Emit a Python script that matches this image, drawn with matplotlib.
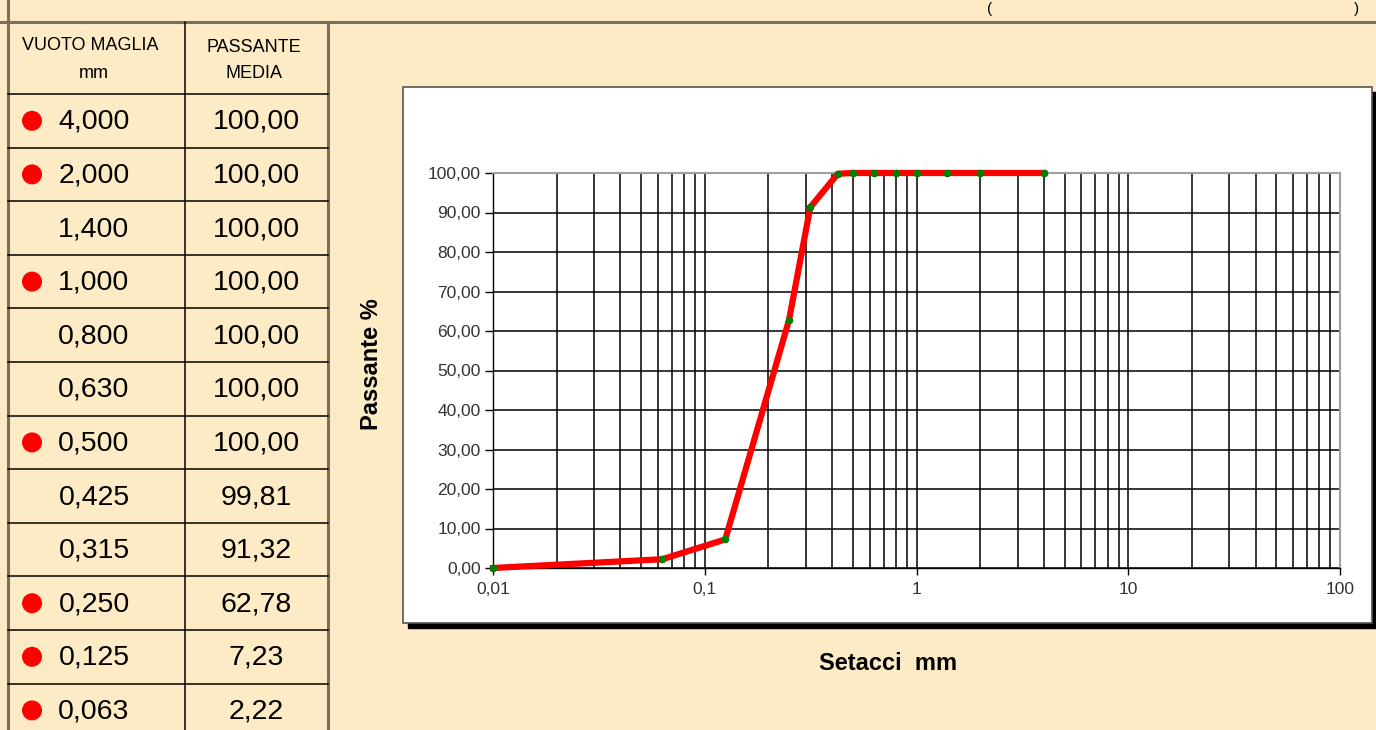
import matplotlib
matplotlib.use("Agg")
import matplotlib.pyplot as plt
from matplotlib.patches import Rectangle, Circle
from matplotlib.ticker import FixedLocator, LogLocator, NullFormatter, FuncFormatter

# ---- data ----
sieve_mm = [4.000, 2.000, 1.400, 1.000, 0.800, 0.630, 0.500, 0.425, 0.315, 0.250, 0.125, 0.063]
passing = [100.00, 100.00, 100.00, 100.00, 100.00, 100.00, 100.00, 99.81, 91.32, 62.78, 7.23, 2.22]
red_dot = [True, True, False, True, False, False, True, False, False, True, True, True]
pan_x = [0.01]
pan_y = [0.0]
y_ticks = [0, 10, 20, 30, 40, 50, 60, 70, 80, 90, 100]
x_ticks = [0.01, 0.1, 1, 10, 100]
x_tick_labels = ["0,01", "0,1", "1", "10", "100"]

BG = "#FDEBC5"
W, H = 1376, 730
fig = plt.figure(figsize=(W / 100, H / 100), dpi=100, facecolor=BG)
plt.rcParams['font.family'] = ['Liberation Sans', 'DejaVu Sans']
NARROW = ['Liberation Sans Narrow', 'Liberation Sans', 'DejaVu Sans']

# background/pixel axes
bg = fig.add_axes([0, 0, 1, 1])
bg.set_xlim(0, W)
bg.set_ylim(H, 0)
bg.axis('off')
bg.set_facecolor(BG)

border_c = "#7a6f5e"
# top line and outer borders
bg.plot([0, W], [22, 22], color=border_c, lw=2.2)
bg.plot([8, 8], [0, H], color=border_c, lw=2.2)
bg.plot([328, 328], [22, H], color=border_c, lw=2.2)
# inner table lines
bg.plot([185, 185], [22, H], color="black", lw=1.1)
row_h = 53.6
y0 = 94.0
for k in range(len(sieve_mm) + 1):
    yy = y0 + k * row_h
    bg.plot([8, 328], [yy, yy], color="black", lw=1.1)

# title parentheses at top (title text itself lies above the visible area)
bg.text(990, 9, "(", fontsize=11, ha='center', va='center', color='black')
bg.text(1356, 9, ")", fontsize=11, ha='center', va='center', color='black')

# headers
bg.text(90, 46, "VUOTO MAGLIA", fontsize=13, family=NARROW, ha='center', va='center')
bg.text(94, 73, "mm", fontsize=13, family=NARROW, ha='center', va='center')
bg.text(254, 47, "PASSANTE", fontsize=13, family=NARROW, ha='center', va='center')
bg.text(254, 73, "MEDIA", fontsize=13, family=NARROW, ha='center', va='center')

for k, (s, p, d) in enumerate(zip(sieve_mm, passing, red_dot)):
    yc = y0 + k * row_h + row_h / 2
    bg.text(94, yc + 1, f"{s:.3f}".replace('.', ','), fontsize=20.5, family=NARROW,
            ha='center', va='center')
    bg.text(256, yc + 1, f"{p:.2f}".replace('.', ','), fontsize=20.5, family=NARROW,
            ha='center', va='center')
    if d:
        bg.add_patch(Circle((32, yc), 9.3, color='#ff0000', zorder=3))

# chart box with shadow
bx0, by0, bx1, by1 = 403, 87, 1372, 623
bg.add_patch(Rectangle((bx0 + 5, by0 + 5), bx1 - bx0, by1 - by0, color='black', zorder=1))
bg.add_patch(Rectangle((bx0, by0), bx1 - bx0, by1 - by0, facecolor='white',
                       edgecolor='#555555', lw=1.2, zorder=2))

# axis titles
bg.text(888, 663, "Setacci  mm", fontsize=17, fontweight='bold', ha='center', va='center', zorder=4)
bg.text(371, 364, "Passante %", fontsize=17, fontweight='bold', ha='center', va='center',
        rotation=90, zorder=4)

# chart axes
L, R, T, B = 493, 1340, 173, 568
ax = fig.add_axes([L / W, 1 - B / H, (R - L) / W, (B - T) / H])
ax.set_zorder(5)
ax.set_facecolor('white')
ax.set_xscale('log')
ax.set_xlim(0.01, 100)
ax.set_ylim(0, 100)

for sp in ['top', 'right']:
    ax.spines[sp].set_color('#a0a0a0')
    ax.spines[sp].set_linewidth(1.5)
for sp in ['left', 'bottom']:
    ax.spines[sp].set_color('black')
    ax.spines[sp].set_linewidth(1.0)

ax.xaxis.set_major_locator(FixedLocator(x_ticks))
ax.set_xticklabels(x_tick_labels)
ax.xaxis.set_minor_locator(LogLocator(base=10, subs=range(2, 10), numticks=20))
ax.xaxis.set_minor_formatter(NullFormatter())
ax.set_yticks(y_ticks)
ax.yaxis.set_major_formatter(FuncFormatter(lambda v, _: f"{v:.2f}".replace('.', ',')))

ax.tick_params(axis='x', which='major', direction='out', length=5, width=1, color='black',
               labelsize=12.5, labelcolor='#333333', pad=5)
ax.tick_params(axis='x', which='minor', length=0)
ax.tick_params(axis='y', which='major', direction='out', length=6, width=1, color='black',
               labelsize=12.5, labelcolor='#333333', pad=3)

ax.grid(True, which='both', axis='x', color='black', lw=1.1)
ax.grid(True, which='major', axis='y', color='black', lw=1.1)
ax.set_axisbelow(True)

curve_x = sieve_mm + pan_x
curve_y = passing + pan_y
ax.plot(curve_x, curve_y, color='#ff0000', lw=4.5, solid_joinstyle='round', zorder=3,
        clip_on=False)
ax.plot(curve_x, curve_y, linestyle='none', marker='o', ms=4.5, mfc='#008000', mec='#008000',
        zorder=4, clip_on=False)

fig.savefig("out.png", dpi=100, facecolor=BG)
